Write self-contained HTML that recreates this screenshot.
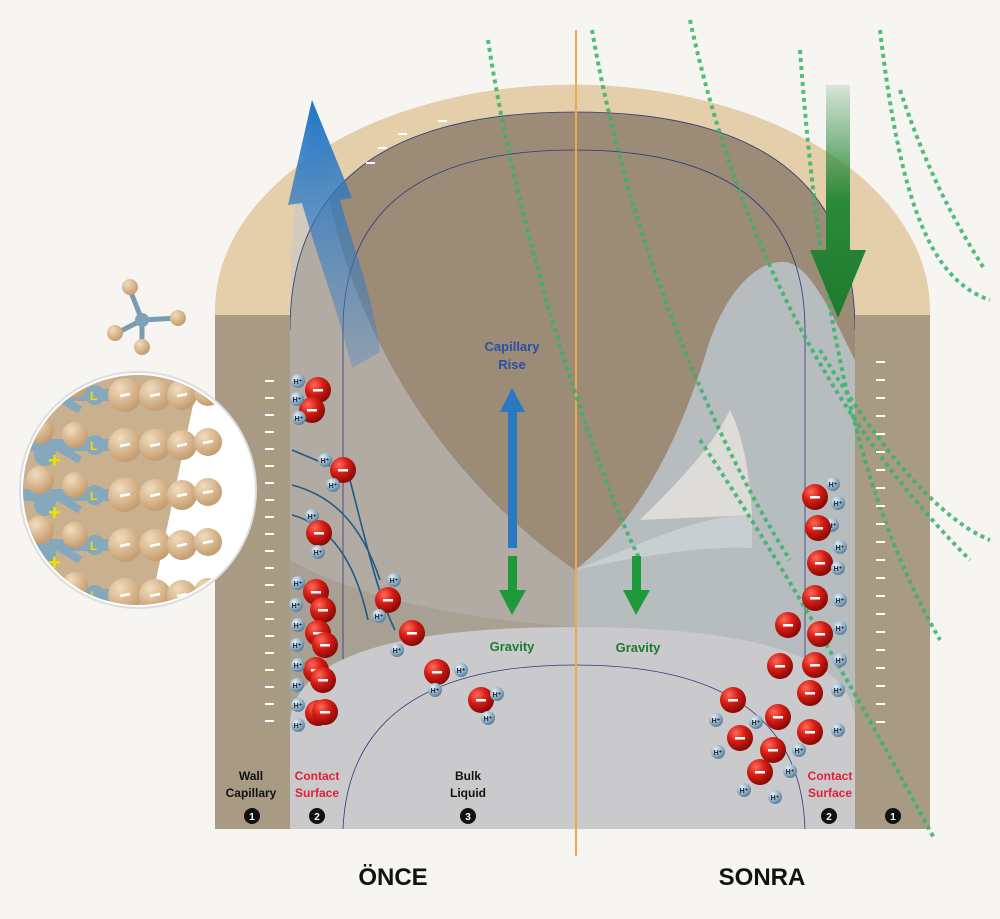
<!DOCTYPE html>
<html><head><meta charset="utf-8"><style>
body{margin:0;background:#f6f5f2;}
svg{display:block;font-family:"Liberation Sans",sans-serif;}
</style></head><body>
<svg width="1000" height="919" viewBox="0 0 1000 919" xmlns="http://www.w3.org/2000/svg">
<defs>
<radialGradient id="red" cx="0.35" cy="0.3" r="0.7"><stop offset="0" stop-color="#ff6a5a"/><stop offset="0.5" stop-color="#d51c14"/><stop offset="1" stop-color="#8a0a06"/></radialGradient>
<radialGradient id="blu" cx="0.35" cy="0.3" r="0.7"><stop offset="0" stop-color="#e3eef6"/><stop offset="0.6" stop-color="#93b4cb"/><stop offset="1" stop-color="#5e819b"/></radialGradient>
<radialGradient id="tan" cx="0.35" cy="0.3" r="0.7"><stop offset="0" stop-color="#f2dcbc"/><stop offset="1" stop-color="#c59d70"/></radialGradient>
<linearGradient id="barr" x1="0" y1="1" x2="0" y2="0"><stop offset="0" stop-color="#3d7fc4" stop-opacity="0.3"/><stop offset="1" stop-color="#1f74c4"/></linearGradient>
<linearGradient id="garr" x1="0" y1="0" x2="0" y2="1"><stop offset="0" stop-color="#2e8a40" stop-opacity="0.15"/><stop offset="0.5" stop-color="#2b8a3a"/><stop offset="1" stop-color="#1e7a2e"/></linearGradient>
<clipPath id="cc"><circle cx="138" cy="490" r="115"/></clipPath>
<g id="h"><circle r="7" fill="url(#blu)"/><text y="3" font-size="7" text-anchor="middle" fill="#222" font-weight="bold">H⁺</text></g>
<g id="o"><circle r="13" fill="url(#red)"/><rect x="-5" y="-1" width="10" height="2.5" fill="#fff"/></g>
</defs>

<!-- outer arch -->
<path d="M215,829 V310 A357,225 0 0 1 930,310 V829 Z" fill="#e4cfaa"/>
<rect x="215" y="315" width="715" height="514" fill="#a89a83"/>
<!-- channel -->
<path d="M290,829 V330 Q290,112 575,112 Q855,112 855,330 V829 Z" fill="#9b8b77"/>
<!-- left meniscus band -->
<path d="M290,330 Q290,150 320,125 C 330,300 430,470 575,570 L575,627 C 470,620 360,600 290,560 Z" fill="#c3c7cb" opacity="0.55"/>
<path d="M290,560 C360,600 470,620 575,627 L575,829 H290 Z" fill="#b8b6b2" opacity="0.5"/>
<!-- right meniscus -->
<path d="M575,570 C640,520 680,440 710,340 C730,285 760,260 785,262 C810,265 830,310 855,360 V829 H575 Z" fill="#bcc4cb" opacity="0.85"/>
<path d="M640,520 C680,480 710,450 730,410 C745,440 750,480 752,515 Z" fill="#e6e4e0" opacity="0.8"/>
<path d="M575,570 C620,560 700,545 752,548 L752,515 C700,515 650,540 575,570 Z" fill="#d6dadd" opacity="0.6"/>
<path d="M343,829 V330 Q343,150 575,150 Q805,150 805,330 V829" fill="none" stroke="#2d3a7a" stroke-width="0.8"/>
<path d="M290,330 Q290,112 575,112 Q855,112 855,330" fill="none" stroke="#2d3a7a" stroke-width="0.8"/>
<!-- bulk liquid -->
<path d="M290,829 V720 Q300,627 575,627 Q850,627 855,720 V829 Z" fill="#cacacc"/>
<path d="M343,829 Q350,665 575,665 Q800,665 805,829" fill="none" stroke="#2d3a7a" stroke-width="0.8"/>
<!-- walls -->
<rect x="215" y="315" width="75" height="514" fill="#a89a83"/>
<rect x="855" y="315" width="75" height="514" fill="#a89a83"/>
<!-- orange line -->
<line x1="576" y1="30" x2="576" y2="856" stroke="#f0a84a" stroke-width="2"/>

<!-- dotted green arcs -->
<g fill="none" stroke="#35b36a" stroke-width="4" stroke-dasharray="4,4" opacity="0.85">
<path d="M488,40 C520,250 600,480 640,560"/>
<path d="M592,30 C630,250 720,450 790,560"/>
<path d="M690,20 C740,250 840,430 970,560"/>
<path d="M800,50 C820,320 860,500 940,640"/>
<path d="M880,30 C900,200 930,280 990,300"/>
<path d="M900,90 C930,180 960,230 985,270"/>
<path d="M700,440 C780,560 860,700 935,840"/>
<path d="M820,350 C880,450 940,520 990,540"/>
</g>

<!-- white dashes -->
<g stroke="#fff" stroke-width="2">
<path d="M265,381h9M265,398h9M265,415h9M265,432h9M265,449h9M265,466h9M265,483h9M265,500h9M265,517h9M265,534h9M265,551h9M265,568h9M265,585h9M265,602h9M265,619h9M265,636h9M265,653h9M265,670h9M265,687h9M265,704h9M265,721h9"/>
<path d="M876,362h9M876,380h9M876,398h9M876,416h9M876,434h9M876,452h9M876,470h9M876,488h9M876,506h9M876,524h9M876,542h9M876,560h9M876,578h9M876,596h9M876,614h9M876,632h9M876,650h9M876,668h9M876,686h9M876,704h9M876,722h9"/>
<path d="M366,163h9M378,148h9M398,134h9M438,121h9"/>
</g>

<!-- blue arrow -->
<path d="M352,368 L380,352 C372,290 352,245 340,200 L352,198 L312,100 L288,205 L302,203 C318,260 338,310 352,368 Z" fill="url(#barr)"/>
<!-- green arrow -->
<path d="M826,85 H850 V250 H866 L838,318 L810,250 H826 Z" fill="url(#garr)"/>

<!-- center arrows -->
<rect x="508" y="410" width="9" height="138" fill="#2a77c2"/>
<path d="M500,412 L512,388 L525,412 Z" fill="#2a77c2"/>
<rect x="508" y="556" width="9" height="36" fill="#1e9a3a"/>
<path d="M499,590 L512,615 L526,590 Z" fill="#1e9a3a"/>
<rect x="632" y="556" width="9" height="36" fill="#1e9a3a"/>
<path d="M623,590 L636,615 L650,590 Z" fill="#1e9a3a"/>
<text x="512" y="351" font-size="13" font-weight="bold" fill="#2a4fa8" text-anchor="middle">Capillary</text>
<text x="512" y="369" font-size="13" font-weight="bold" fill="#2a4fa8" text-anchor="middle">Rise</text>
<text x="512" y="651" font-size="13" font-weight="bold" fill="#1e7a30" text-anchor="middle">Gravity</text>
<text x="638" y="652" font-size="13" font-weight="bold" fill="#1e7a30" text-anchor="middle">Gravity</text>

<!-- flow lines -->
<g fill="none" stroke="#1f5a86" stroke-width="1.6">
<path d="M330,466 L292,450"/><path d="M380,580 C360,520 330,495 292,485"/>
<path d="M368,620 C355,560 330,525 292,515"/><path d="M395,630 C380,600 370,560 345,460"/>
</g>

<!-- left molecules -->
<g>
<use href="#o" x="318" y="390"/><use href="#o" x="312" y="410"/>
<use href="#h" x="298" y="381"/><use href="#h" x="297" y="399"/><use href="#h" x="299" y="418"/>
<use href="#h" x="325" y="460"/><use href="#o" x="343" y="470"/><use href="#h" x="333" y="485"/>
<use href="#h" x="312" y="516"/><use href="#o" x="319" y="533"/><use href="#h" x="318" y="552"/>
<use href="#o" x="316" y="592"/><use href="#o" x="323" y="610"/><use href="#o" x="318" y="633"/><use href="#o" x="325" y="645"/><use href="#o" x="316" y="670"/><use href="#o" x="323" y="680"/><use href="#o" x="318" y="713"/><use href="#o" x="325" y="712"/>
<use href="#h" x="298" y="583"/><use href="#h" x="296" y="605"/><use href="#h" x="298" y="625"/><use href="#h" x="297" y="645"/><use href="#h" x="298" y="665"/><use href="#h" x="297" y="685"/><use href="#h" x="298" y="705"/><use href="#h" x="298" y="725"/>
<use href="#h" x="394" y="580"/><use href="#o" x="388" y="600"/><use href="#h" x="379" y="616"/>
<use href="#o" x="412" y="633"/><use href="#h" x="397" y="650"/>
<use href="#o" x="437" y="672"/><use href="#h" x="461" y="670"/><use href="#h" x="435" y="690"/>
<use href="#o" x="481" y="700"/><use href="#h" x="497" y="694"/><use href="#h" x="488" y="718"/>
</g>
<!-- right molecules -->
<g>
<use href="#h" x="833" y="484"/><use href="#o" x="815" y="497"/><use href="#h" x="838" y="503"/><use href="#h" x="832" y="525"/><use href="#o" x="818" y="528"/><use href="#h" x="840" y="547"/><use href="#o" x="820" y="563"/><use href="#h" x="838" y="568"/>
<use href="#o" x="815" y="598"/><use href="#h" x="840" y="600"/><use href="#o" x="788" y="625"/><use href="#o" x="820" y="634"/><use href="#h" x="840" y="628"/>
<use href="#o" x="815" y="665"/><use href="#o" x="780" y="666"/><use href="#h" x="840" y="660"/><use href="#o" x="810" y="693"/><use href="#h" x="838" y="690"/>
<use href="#o" x="733" y="700"/><use href="#o" x="778" y="717"/><use href="#o" x="810" y="732"/><use href="#h" x="838" y="730"/>
<use href="#h" x="716" y="720"/><use href="#h" x="756" y="722"/><use href="#o" x="740" y="738"/><use href="#o" x="773" y="750"/><use href="#h" x="718" y="752"/>
<use href="#o" x="760" y="772"/><use href="#h" x="790" y="771"/><use href="#h" x="744" y="790"/><use href="#h" x="775" y="797"/><use href="#h" x="799" y="750"/>
</g>

<!-- labels -->
<g font-size="12" font-weight="bold" text-anchor="middle">
<text x="251" y="780" fill="#111">Wall</text><text x="251" y="797" fill="#111">Capillary</text>
<text x="317" y="780" fill="#e0203a">Contact</text><text x="317" y="797" fill="#e0203a">Surface</text>
<text x="468" y="780" fill="#111">Bulk</text><text x="468" y="797" fill="#111">Liquid</text>
<text x="830" y="780" fill="#e0203a">Contact</text><text x="830" y="797" fill="#e0203a">Surface</text>
</g>
<g font-size="10" font-weight="bold" text-anchor="middle" fill="#fff">
<circle cx="252" cy="816" r="8" fill="#111"/><text x="252" y="820">1</text>
<circle cx="317" cy="816" r="8" fill="#111"/><text x="317" y="820">2</text>
<circle cx="468" cy="816" r="8" fill="#111"/><text x="468" y="820">3</text>
<circle cx="829" cy="816" r="8" fill="#111"/><text x="829" y="820">2</text>
<circle cx="893" cy="816" r="8" fill="#111"/><text x="893" y="820">1</text>
</g>
<text x="393" y="885" font-size="24" font-weight="bold" text-anchor="middle" fill="#111">ÖNCE</text>
<text x="762" y="885" font-size="24" font-weight="bold" text-anchor="middle" fill="#111">SONRA</text>

<!-- tetrahedron -->
<g stroke="#7a9bb0" stroke-width="5">
<line x1="142" y1="320" x2="130" y2="290"/><line x1="142" y1="320" x2="178" y2="318"/><line x1="142" y1="320" x2="117" y2="333"/><line x1="142" y1="320" x2="142" y2="346"/>
</g>
<circle cx="130" cy="287" r="8" fill="url(#tan)"/><circle cx="178" cy="318" r="8" fill="url(#tan)"/><circle cx="115" cy="333" r="8" fill="url(#tan)"/><circle cx="142" cy="347" r="8" fill="url(#tan)"/>
<circle cx="142" cy="320" r="7" fill="#7fa2b8"/>

<!-- magnified circle -->
<circle cx="138" cy="490" r="118" fill="#fff"/>
<circle cx="138" cy="490" r="118" fill="none" stroke="#ddd" stroke-width="2"/>
<g clip-path="url(#cc)">
<path d="M20,372 H200 L150,608 H20 Z" fill="#c9b08f"/>
<g id="row">
<line x1="20" y1="395" x2="130" y2="395" stroke="#86a8bc" stroke-width="12"/>
<line x1="30" y1="380" x2="80" y2="410" stroke="#86a8bc" stroke-width="8"/>
<circle cx="40" cy="380" r="14" fill="url(#tan)"/>
<circle cx="75" cy="385" r="13" fill="url(#tan)"/>
<circle cx="45" cy="405" r="11" fill="#86a8bc"/>
<circle cx="95" cy="395" r="10" fill="#86a8bc"/>
<circle cx="125" cy="395" r="17" fill="url(#tan)"/><circle cx="155" cy="395" r="16" fill="url(#tan)"/><circle cx="182" cy="395" r="15" fill="url(#tan)"/><circle cx="208" cy="392" r="14" fill="url(#tan)"/>
<g stroke="#fff" stroke-width="2.5"><line x1="120" y1="396" x2="130" y2="394"/><line x1="150" y1="396" x2="160" y2="394"/><line x1="177" y1="396" x2="187" y2="394"/><line x1="203" y1="393" x2="213" y2="391"/></g>
<text x="90" y="400" font-size="12" fill="#e8e000" font-weight="bold">L</text>
</g>
<use href="#row" y="50"/><use href="#row" y="100"/><use href="#row" y="150"/><use href="#row" y="200"/>
<g fill="#f0e000" font-size="22" font-weight="bold"><text x="48" y="468">+</text><text x="48" y="520">+</text><text x="48" y="570">+</text></g>
</g>
</svg>
</body></html>
